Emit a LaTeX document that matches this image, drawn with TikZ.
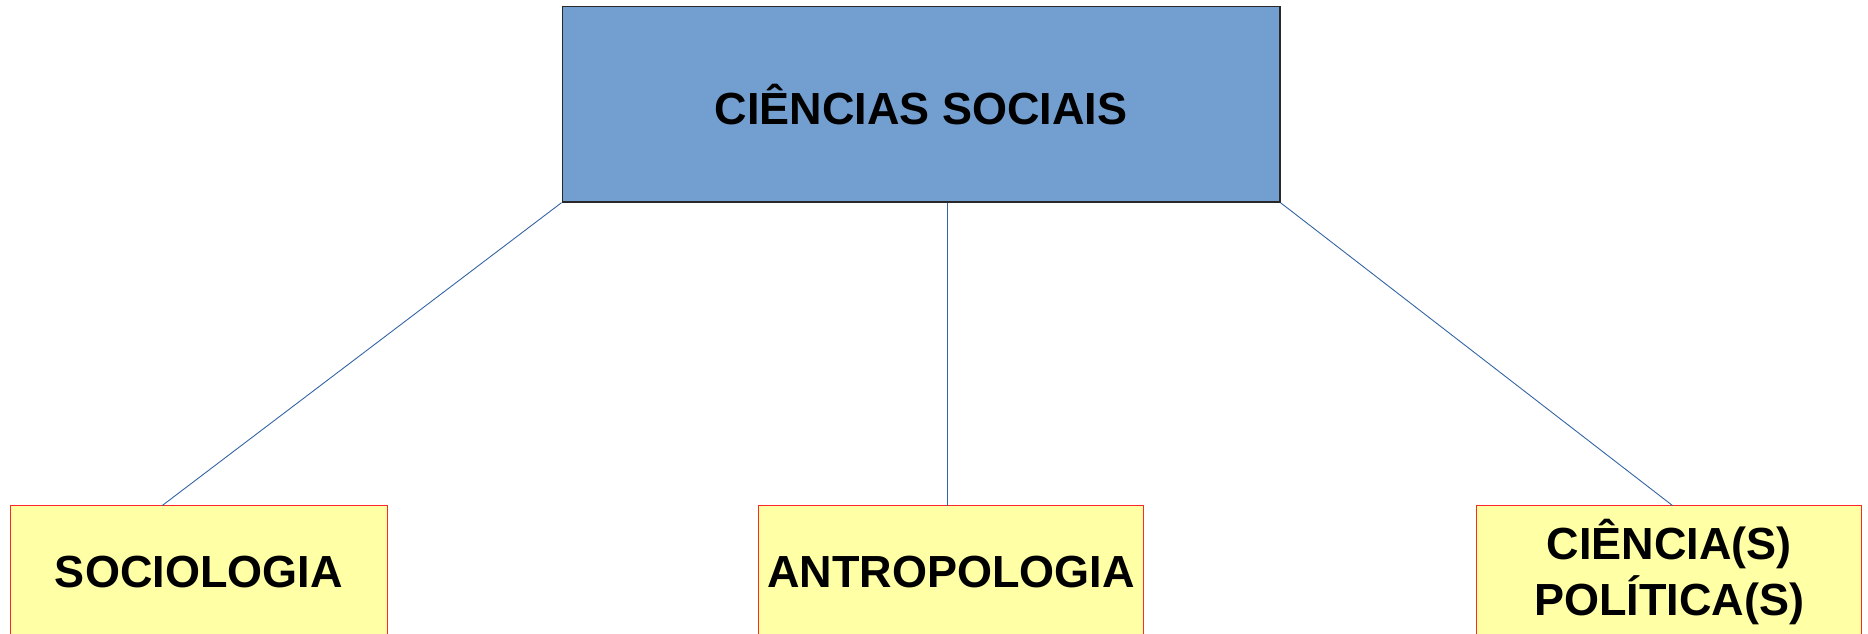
\documentclass[tikz,border=0pt]{standalone}
\usepackage{fontspec}
\setmainfont{Liberation Sans}
\definecolor{topfill}{RGB}{114,159,207}
\definecolor{topline}{RGB}{40,40,40}
\definecolor{boxfill}{RGB}{255,255,166}
\definecolor{boxline}{RGB}{255,40,40}
\definecolor{conn}{RGB}{52,101,164}
\tikzset{
  topbox/.style={draw=topline, fill=topfill, line width=1.3pt, inner sep=0pt,
    minimum width=717.7pt, minimum height=195.5pt,
    font=\fontsize{45}{56}\selectfont\bfseries, text=black},
  subbox/.style={draw=boxline, fill=boxfill, line width=1pt, inner sep=0pt,
    minimum height=133pt, align=center,
    font=\fontsize{45}{56}\selectfont\bfseries, text=black},
  link/.style={draw=conn, line width=0.9pt}
}
\begin{document}
\begin{tikzpicture}[x=1pt,y=1pt]
\useasboundingbox (0,0) rectangle (1868,-633);
\clip (0,0) rectangle (1868,-633);
\node[topbox] (top) at (921,-104.3) {CIÊNCIAS SOCIAIS};
\node[subbox, minimum width=377.5pt] (soc) at (198.75,-572.2) {SOCIOLOGIA};
\node[subbox, minimum width=385.4pt] (ant) at (951,-572.2) {ANTROPOLOGIA};
\node[subbox, minimum width=385pt] (pol) at (1669.2,-572.2) {CIÊNCIA(S)\\POLÍTICA(S)};
\coordinate (socTop) at (162,-505.7);
\coordinate (antTop) at (947.3,-505.7);
\coordinate (polTop) at (1672.7,-505.7);
\draw[link] (top.south west) -- (socTop);
\draw[link] (top.south -| antTop) -- (antTop);
\draw[link] (top.south east) -- (polTop);
\end{tikzpicture}
\end{document}
